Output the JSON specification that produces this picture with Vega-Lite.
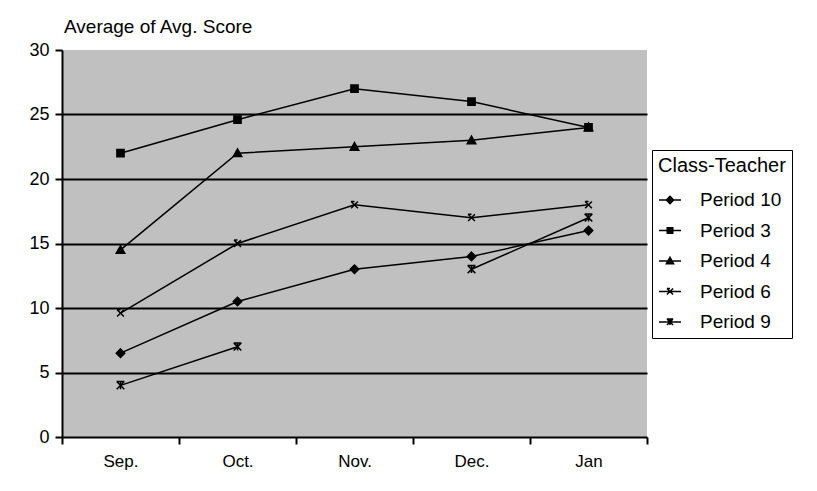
{
  "$schema": "https://vega.github.io/schema/vega-lite/v6.json",
  "width": 585,
  "height": 387,
  "autosize": "none",
  "padding": {"left": 62, "top": 50, "right": 170, "bottom": 54},
  "background": "white",
  "title": {"text": "Average of Avg. Score", "anchor": "start", "frame": "group", "fontSize": 19, "fontWeight": "normal", "font": "Liberation Sans", "color": "black", "offset": 4, "dx": 2},
  "config": {
    "font": "Liberation Sans",
    "view": {"fill": "#c0c0c0", "stroke": null}
  },
  "data": {"values": [
    {"month": "Sep.", "series": "Period 10", "score": 6.5},
    {"month": "Oct.", "series": "Period 10", "score": 10.5},
    {"month": "Nov.", "series": "Period 10", "score": 13},
    {"month": "Dec.", "series": "Period 10", "score": 14},
    {"month": "Jan", "series": "Period 10", "score": 16},
    {"month": "Sep.", "series": "Period 3", "score": 22},
    {"month": "Oct.", "series": "Period 3", "score": 24.6},
    {"month": "Nov.", "series": "Period 3", "score": 27},
    {"month": "Dec.", "series": "Period 3", "score": 26},
    {"month": "Jan", "series": "Period 3", "score": 24},
    {"month": "Sep.", "series": "Period 4", "score": 14.5},
    {"month": "Oct.", "series": "Period 4", "score": 22},
    {"month": "Nov.", "series": "Period 4", "score": 22.5},
    {"month": "Dec.", "series": "Period 4", "score": 23},
    {"month": "Jan", "series": "Period 4", "score": 24},
    {"month": "Sep.", "series": "Period 6", "score": 9.6},
    {"month": "Oct.", "series": "Period 6", "score": 15},
    {"month": "Nov.", "series": "Period 6", "score": 18},
    {"month": "Dec.", "series": "Period 6", "score": 17},
    {"month": "Jan", "series": "Period 6", "score": 18},
    {"month": "Sep.", "series": "Period 9", "score": 4},
    {"month": "Oct.", "series": "Period 9", "score": 7},
    {"month": "Nov.", "series": "Period 9", "score": null},
    {"month": "Dec.", "series": "Period 9", "score": 13},
    {"month": "Jan", "series": "Period 9", "score": 17}
  ]},
  "encoding": {
    "x": {
      "field": "month", "type": "nominal", "bandPosition": 0.5,
      "sort": ["Sep.", "Oct.", "Nov.", "Dec.", "Jan"],
      "scale": {"type": "band", "domain": ["Sep.", "Oct.", "Nov.", "Dec.", "Jan"], "paddingInner": 0, "paddingOuter": 0},
      "axis": {"title": null, "labelAngle": 0, "tickBand": "extent", "grid": false, "domainColor": "black", "domainWidth": 2, "tickColor": "black", "tickWidth": 2, "tickSize": 7, "labelFontSize": 17, "labelColor": "black", "labelPadding": 9}
    },
    "y": {
      "field": "score", "type": "quantitative",
      "scale": {"domain": [0, 30], "nice": false},
      "axis": {"title": null, "values": [0, 5, 10, 15, 20, 25, 30], "grid": true,
        "gridColor": {"condition": {"test": "datum.value === 30 || datum.value === 0", "value": "transparent"}, "value": "black"},
        "gridWidth": 2, "domainColor": "black", "domainWidth": 2, "tickColor": "black", "tickWidth": 2, "tickSize": 7, "labelFontSize": 18, "labelColor": "black", "labelPadding": 6}
    }
  },
  "layer": [
    {
      "mark": {"type": "point", "filled": false, "color": "black", "strokeWidth": 1.5, "opacity": 0},
      "encoding": {
        "shape": {"field": "series", "type": "nominal",
          "scale": {"domain": ["Period 10", "Period 3", "Period 4", "Period 6", "Period 9"],
            "range": [
              "M-1,0H1M0,-0.33L0.33,0L0,0.33L-0.33,0ZM0,-0.2L0.2,0L0,0.2L-0.2,0ZM0,-0.07L0.07,0L0,0.07L-0.07,0Z",
              "M-1,0H1M-0.25,-0.25H0.25V0.25H-0.25ZM-0.13,-0.13H0.13V0.13H-0.13ZM-0.03,-0.03H0.03V0.03H-0.03Z",
              "M-1,0H1M0,-0.33L0.33,0.26L-0.33,0.26ZM0,-0.14L0.17,0.17L-0.17,0.17Z",
              "M-1,0H1M-0.28,-0.28L0.28,0.28M0.28,-0.28L-0.28,0.28M-0.28,-0.28H0",
              "M-1,0H1M-0.28,-0.28H0.28M-0.28,-0.28L0.28,0.28M0.28,-0.28L-0.28,0.28M0,-0.28V0.28"]},
          "legend": {"title": "Class-Teacher", "orient": "none", "legendX": 590, "legendY": 100,
            "strokeColor": "black", "fillColor": "white", "padding": 6,
            "titleFontSize": 20, "titleFontWeight": "normal", "titleColor": "black", "titlePadding": 12,
            "labelFontSize": 19, "labelColor": "black", "labelOffset": 18,
            "symbolSize": 484, "symbolStrokeWidth": 1.5, "symbolStrokeColor": "black", "symbolOpacity": 1,
            "rowPadding": 8.5,
            "encode": {"symbols": {"stroke": {"value": "black"}, "strokeWidth": {"value": 1.5}, "opacity": {"value": 1}}}}
        }
      }
    },
    {
      "mark": {"type": "line", "color": "black", "strokeWidth": 1.5, "invalid": "break-paths-filter-domains"},
      "encoding": {"detail": {"field": "series", "type": "nominal"}}
    },
    {
      "mark": {"type": "point", "filled": true, "color": "black", "stroke": "black", "strokeWidth": 1.5, "size": 72, "opacity": 1},
      "encoding": {
        "shape": {"field": "series", "type": "nominal",
          "scale": {"domain": ["Period 10", "Period 3", "Period 4", "Period 6", "Period 9"],
            "range": ["M0,-1L1,0L0,1L-1,0Z", "M-0.85,-0.85H0.85V0.85H-0.85Z", "M0,-1L1,0.8L-1,0.8Z", "M-0.8,-0.8L0.8,0.8M0.8,-0.8L-0.8,0.8M-0.8,-0.8H0", "M-0.9,-0.9H0.9M-0.9,-0.9L0.9,0.9M0.9,-0.9L-0.9,0.9M0,-0.9V0.9"]},
          "legend": null}
      }
    }
  ],
  "resolve": {"scale": {"shape": "independent"}}
}
